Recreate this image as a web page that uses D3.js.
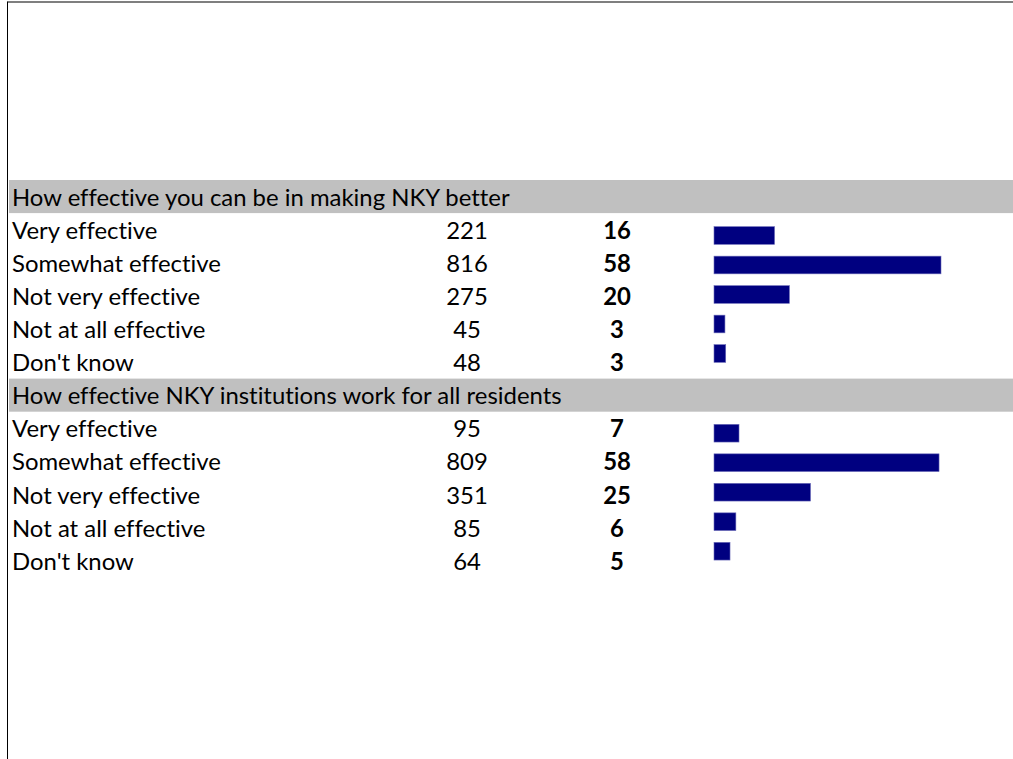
<!DOCTYPE html>
<html>
<head>
<meta charset="utf-8">
<script src="https://cdn.jsdelivr.net/npm/d3@7"></script>
<style>
  html, body { margin: 0; padding: 0; background: #fff; }
  svg { display: block; }
  text { font-family: Lato, "Open Sans", sans-serif; fill: #000; font-variant-ligatures: none; font-feature-settings: "liga" 0, "clig" 0; }
</style>
</head>
<body>
<svg id="chart" width="1013" height="759"></svg>
<script>
// ---- data ----
const sectionTitles = [
  "How effective you can be in making NKY better",
  "How effective NKY institutions work for all residents"
];
const categories = ["Very effective", "Somewhat effective", "Not very effective", "Not at all effective", "Don't know"];
const counts1 = [221, 816, 275, 45, 48];
const percents1 = [16, 58, 20, 3, 3];
const bars1 = [15.5, 58.1, 19.3, 2.8, 3.0];
const counts2 = [95, 809, 351, 85, 64];
const percents2 = [7, 58, 25, 6, 5];
const bars2 = [6.4, 57.6, 24.7, 5.6, 4.1];

const sections = [
  { title: sectionTitles[0], counts: counts1, percents: percents1, bars: bars1 },
  { title: sectionTitles[1], counts: counts2, percents: percents2, bars: bars2 }
];

// ---- layout ----
const W = 1013, H = 759;
const svg = d3.select("#chart");
const fontSize = 23.9;

// frame lines
svg.append("line").attr("x1", 7.5).attr("x2", W).attr("y1", 2).attr("y2", 2)
  .attr("stroke", "#555").attr("stroke-width", 1.3);
svg.append("line").attr("x1", 7.5).attr("x2", 7.5).attr("y1", 1.5).attr("y2", H)
  .attr("stroke", "#000").attr("stroke-width", 1);

const rowH = 33.1;
const top0 = 180;
const yRow = d3.scaleLinear().domain([0, 12]).range([top0, top0 + 12 * rowH]);

const x = d3.scaleLinear().domain([0, 100]).range([714, 714 + 390.7]);
const colCount = 467, colPct = 617;

sections.forEach((s, si) => {
  const base = si * 6;
  // header band
  svg.append("rect")
    .attr("x", 9).attr("y", yRow(base))
    .attr("width", W - 9).attr("height", yRow(base + 1) - yRow(base))
    .attr("fill", "#c0c0c0");
  svg.append("text")
    .attr("x", 12).attr("y", yRow(base + 1) - 7.5)
    .attr("font-size", fontSize)
    .text(s.title);

  const g = svg.append("g");
  categories.forEach((c, i) => {
    const yb = yRow(base + 2 + i) - 7.5;
    g.append("text").attr("x", 12).attr("y", yb).attr("font-size", fontSize).text(c);
    g.append("text").attr("x", colCount).attr("y", yb).attr("font-size", fontSize)
      .attr("text-anchor", "middle").text(s.counts[i]);
    g.append("text").attr("x", colPct).attr("y", yb).attr("font-size", fontSize)
      .attr("font-weight", "bold").attr("text-anchor", "middle").text(s.percents[i]);
  });

  // bar chart overlay
  const y0 = si === 0 ? 220.75 : 418.45;
  const yb = d3.scaleBand().domain(categories).range([y0, y0 + 147.5])
    .paddingInner(0.4).paddingOuter(0.2);
  svg.append("g").selectAll("rect").data(categories).join("rect")
    .attr("x", x(0))
    .attr("y", d => yb(d))
    .attr("width", (d, i) => x(s.bars[i]) - x(0))
    .attr("height", yb.bandwidth())
    .attr("fill", "#000080")
    .attr("stroke", "#6b6bb8")
    .attr("stroke-width", 0.6);
});
</script>
</body>
</html>
